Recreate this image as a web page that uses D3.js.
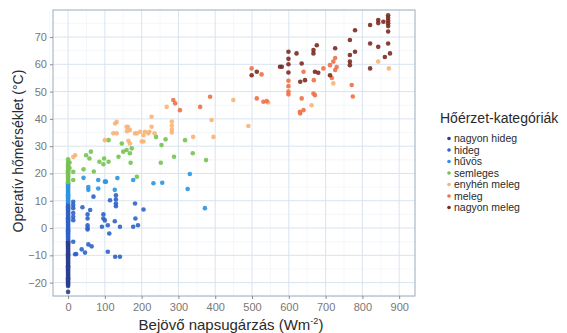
<!DOCTYPE html>
<html>
<head>
<meta charset="utf-8">
<script src="https://cdn.jsdelivr.net/npm/d3@7"></script>
<style>
  body { margin: 0; background: #fff; }
  text { font-family: "Liberation Sans", Arial, sans-serif; }
</style>
</head>
<body>
<svg id="chart" width="567" height="333"></svg>
<script>
'use strict';

var CATEGORIES = ['nagyon hideg', 'hideg', 'hűvös', 'semleges', 'enyhén meleg', 'meleg', 'nagyon meleg'];
var CAT_COLORS = ['#2b3f8e', '#2d63c6', '#2b93e2', '#74c350', '#f8b476', '#ee7147', '#7b2b20'];
var X_TICKS = [0, 100, 200, 300, 400, 500, 600, 700, 800, 900];
var Y_TICKS = [-20, -10, 0, 10, 20, 30, 40, 50, 60, 70];

// [napsugárzás, hőmérséklet]
var nagyonHideg = [
  [0, -23.4], [0, -21.2], [0, -20.8], [0, -20.4], [0, -20], [0, -19.6], [0, -19.2], [0, -18.8],
  [0, -18.4], [0, -18], [0, -17.6], [0, -17.2], [0, -16.8], [0, -16.4], [0, -16], [0, -15.6],
  [0, -15.2], [0, -14.8], [0, -14.4], [0, -14], [0, -13.6], [0, -13.2], [0, -12.8], [0, -12.4],
  [0, -12], [0, -11.6], [0, -11.2], [0, -10.8], [0, -10.4], [0, -10], [0, -9.6], [0, -9.2],
  [0, -8.8], [0, -8.4], [0, -8], [0, -7.6], [0, -7.2], [0, -6.8], [0, -6.4], [0, -6],
  [0, -5.6], [0, -5.2], [0, -4.8], [0, -4.4]
];
var hideg = [
  [0, -4], [0, -3.6], [0, -3.2], [0, -2.8], [0, -2.4], [0, -2], [0, -1.6], [0, -1.2], [0, -0.8],
  [0, -0.4], [0, 0], [0, 0.4], [0, 0.8], [0, 1.2], [0, 1.6], [0, 2], [0, 2.4], [0, 2.8], [0, 3.2],
  [0, 3.6], [0, 4], [0, 4.4], [0, 4.8], [0, 5.2], [0, 5.6], [0, 6], [0, 6.4], [0, 6.8], [0, 7.2],
  [0, 7.6], [0, 8], [0, 8.4], [0, 8.8], [0, 9.2],
  [14, 9.6], [14, 8.4], [14, 7.3], [14, 5.5], [14, 4.1], [14, 2.9], [39, 7.6], [60, 6.6],
  [53, 5], [53, 3.5], [53, 1], [53, 0], [53, -0.5], [14, -5], [22, -9.5], [37, -7.8], [46, -9],
  [55, -6], [64, -6.7], [96, 5], [96, 3.5], [92, 0.5], [100, 2.8], [108, 1], [112, -2], [108, -8.7],
  [114, 10.2], [130, 12], [130, 10.5], [130, 9], [130, 8], [127, 2.5], [141, 0.5], [128, -10.5],
  [141, -10.5], [182, 9], [205, 6.8], [177, 0.5], [190, 1], [183, 3.5], [69, 11.5], [19, -9.6]
];
var huvos = [
  [0, 9.6], [0, 10], [0, 10.4], [0, 10.8], [0, 11.2], [0, 11.6], [0, 12], [0, 12.4], [0, 12.8],
  [0, 13.2], [0, 13.6], [0, 14], [0, 14.4], [0, 14.8], [0, 15.2], [0, 15.6], [0, 16], [0, 16.4],
  [82, 14.5], [100, 17], [42, 18.4], [82, 17.6], [103, 17], [55, 15], [55, 14], [134, 18.3],
  [177, 17.6], [256, 16.6], [232, 16.4], [325, 14.3], [331, 19.8], [372, 7.3], [127, 14]
];
var semleges = [
  [0, 16.8], [0, 17.2], [0, 17.6], [0, 18], [0, 18.4], [0, 18.8], [0, 19.2], [0, 19.6], [0, 20],
  [0, 20.4], [0, 20.8], [0, 21.2], [0, 21.6], [0, 22], [0, 22.5], [0, 23], [0, 23.6], [0, 24.3],
  [0, 25.2], [4, 22], [4, 24], [14, 20.6], [14, 17.6], [42, 21.5], [49, 26.7], [58, 25.5],
  [62, 28], [70, 20.7], [85, 24.3], [98, 25.5], [96, 23.4], [110, 24.3], [110, 32.2], [137, 26.1],
  [146, 31], [150, 28], [159, 28.6], [168, 27.4], [173, 29.2], [170, 23.9], [187, 18.8],
  [239, 33.4], [254, 30.4], [265, 32.5], [288, 26.1], [318, 32.2], [339, 27.4], [252, 23.9],
  [375, 24.9]
];
var enyhenMeleg = [
  [19, 26.7], [14, 26], [100, 32.2], [123, 34.7], [132, 38.9], [132, 34.7], [128, 38.3],
  [159, 37.1], [168, 35.9], [168, 31], [164, 32], [160, 35.5], [163, 37], [182, 34.7], [196, 35.3],
  [209, 35.3], [218, 34.7], [187, 34.7], [205, 34], [221, 35.3], [235, 34.7], [200, 31.7],
  [205, 31.7], [227, 37.1], [227, 40.8], [268, 44.4], [282, 39], [282, 37.5], [282, 36],
  [282, 35], [340, 33.4], [395, 33.4], [390, 39.6], [490, 37.4], [449, 46.9], [544, 46],
  [662, 45], [721, 53], [843, 61], [872, 58.5]
];
var meleg = [
  [286, 46.9], [304, 43.2], [291, 45.7], [359, 44.4], [386, 48.1], [499, 58.5], [526, 56.3],
  [513, 47.5], [531, 46.3], [599, 54], [599, 52], [599, 50], [599, 49], [640, 57.3], [668, 54.2],
  [671, 48.7], [635, 47.5], [640, 43.2], [631, 42], [694, 58.5], [712, 59.7], [721, 61],
  [726, 62.3], [726, 57.9], [717, 55], [730, 59], [771, 52.4], [774, 48.2], [667, 49.3],
  [630, 42.6], [540, 46.5]
];
var nagyonMeleg = [
  [513, 57.3], [576, 59.1], [599, 64.6], [599, 62], [599, 60], [599, 57], [621, 64], [635, 60.3],
  [631, 53.6], [644, 54.2], [667, 65.2], [667, 64], [676, 67], [671, 57.3], [680, 56.9],
  [726, 65.9], [712, 56], [766, 68.9], [766, 63.4], [766, 61], [766, 59.7], [780, 72.5],
  [780, 64.6], [821, 74.4], [821, 67.6], [821, 58.5], [843, 76.2], [843, 75.1], [843, 66.4],
  [857, 75.6], [861, 62.7], [870, 78], [870, 77], [870, 76], [870, 75], [870, 74], [870, 72],
  [870, 67.6], [875, 64], [499, 56], [581, 59.1]
];

var SERIES = [nagyonHideg, hideg, huvos, semleges, enyhenMeleg, meleg, nagyonMeleg];

var svg = d3.select('#chart');
var panel = { left: 53, right: 415, top: 10, bottom: 296 };

var x = d3.scaleLinear().domain([-41, 943]).range([panel.left, panel.right]);
var y = d3.scaleLinear().domain([-24.9, 79.9]).range([panel.bottom, panel.top]);

// grid, minor then major
var grid = svg.append('g');
d3.range(-50, 950, 50).filter(function(v) { return v % 100 !== 0; }).forEach(function(v) {
  grid.append('line').attr('x1', x(v)).attr('x2', x(v))
    .attr('y1', panel.top).attr('y2', panel.bottom)
    .attr('stroke', '#edf2f8').attr('stroke-width', 0.6);
});
d3.range(-25, 80, 5).filter(function(v) { return v % 10 !== 0; }).forEach(function(v) {
  grid.append('line').attr('x1', panel.left).attr('x2', panel.right)
    .attr('y1', y(v)).attr('y2', y(v))
    .attr('stroke', '#edf2f8').attr('stroke-width', 0.6);
});
grid.selectAll('line.vmajor').data(X_TICKS).enter().append('line')
  .attr('x1', function(d) { return x(d); }).attr('x2', function(d) { return x(d); })
  .attr('y1', panel.top).attr('y2', panel.bottom)
  .attr('stroke', '#d9e4f0').attr('stroke-width', 1);
grid.selectAll('line.hmajor').data(Y_TICKS).enter().append('line')
  .attr('x1', panel.left).attr('x2', panel.right)
  .attr('y1', function(d) { return y(d); }).attr('y2', function(d) { return y(d); })
  .attr('stroke', '#d9e4f0').attr('stroke-width', 1);

// points
SERIES.forEach(function(pts, i) {
  svg.append('g').selectAll('circle')
    .data(pts)
    .enter()
    .append('circle')
    .attr('cx', function(d) { return x(d[0]); })
    .attr('cy', function(d) { return y(d[1]); })
    .attr('r', 2.3)
    .style('fill', CAT_COLORS[i])
    .style('fill-opacity', 0.9);
});

// panel border
svg.append('rect')
  .attr('x', panel.left).attr('y', panel.top)
  .attr('width', panel.right - panel.left).attr('height', panel.bottom - panel.top)
  .style('fill', 'none').style('stroke', '#9aabbe').style('stroke-width', 1);

// axes
var xAxis = svg.append('g')
  .attr('transform', 'translate(0,' + panel.bottom + ')')
  .call(d3.axisBottom(x).tickValues(X_TICKS).tickSize(3).tickPadding(4));
var yAxis = svg.append('g')
  .attr('transform', 'translate(' + panel.left + ',0)')
  .call(d3.axisLeft(y).tickValues(Y_TICKS).tickSize(3).tickPadding(3));
[xAxis, yAxis].forEach(function(ax) {
  ax.select('.domain').remove();
  ax.selectAll('line').attr('stroke', '#8a8a8a');
  ax.selectAll('text')
    .style('font-family', '"Liberation Sans", Arial, sans-serif')
    .style('font-size', '11px')
    .attr('fill', '#777');
});

// axis titles
var xTitle = svg.append('text')
  .attr('x', 231)
  .attr('y', 330)
  .attr('text-anchor', 'middle')
  .style('font-size', '15px')
  .attr('fill', '#2a2a2a');
xTitle.append('tspan').text('Bejövő napsugárzás (Wm');
xTitle.append('tspan').attr('dy', -6).style('font-size', '9px').text('-2');
xTitle.append('tspan').attr('dy', 6).text(')');

svg.append('text')
  .attr('transform', 'translate(23,' + 151 + ') rotate(-90)')
  .attr('text-anchor', 'middle')
  .style('font-size', '14px')
  .attr('fill', '#2a2a2a')
  .text('Operatív hőmérséklet (°C)');

// legend
var legend = svg.append('g').attr('transform', 'translate(440,0)');
legend.append('text')
  .attr('x', 0).attr('y', 123)
  .style('font-size', '14px')
  .attr('fill', '#2a2a2a')
  .text('Hőérzet-kategóriák');

var items = legend.selectAll('g.item')
  .data(CATEGORIES)
  .enter()
  .append('g')
  .attr('transform', function(d, i) { return 'translate(0,' + (138.5 + i * 11.5) + ')'; });
items.append('circle')
  .attr('cx', 9).attr('cy', 0).attr('r', 1.8)
  .style('fill', function(d, i) { return CAT_COLORS[i]; });
items.append('text')
  .attr('x', 14).attr('y', 3.7)
  .style('font-size', '10.5px')
  .attr('fill', '#2a2a2a')
  .text(function(d) { return d; });
</script>
</body>
</html>
